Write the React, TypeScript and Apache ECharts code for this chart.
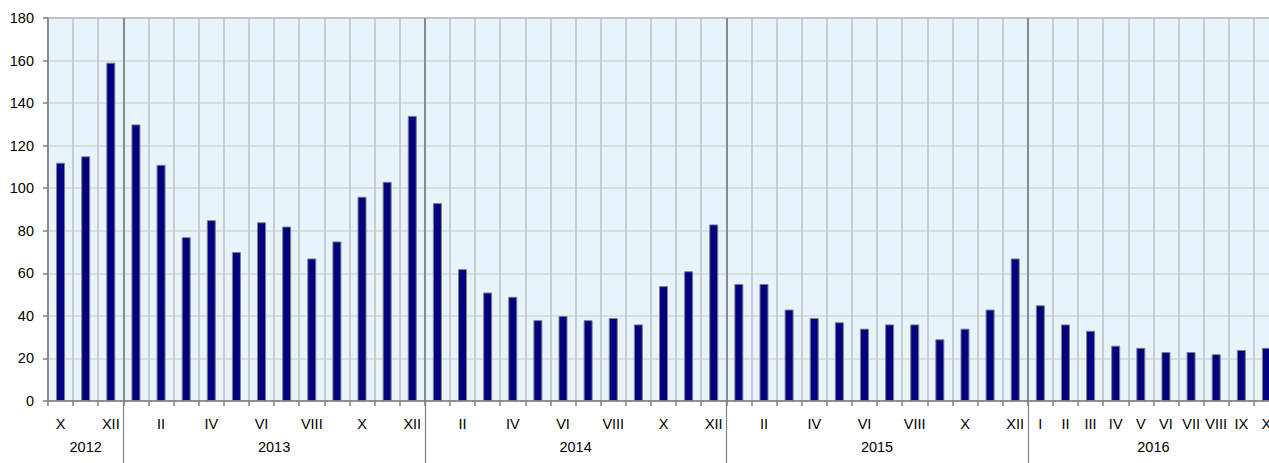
import React, { useEffect, useRef } from "react";
import * as echarts from "echarts";

const months: string[] = [
  "X", "XI", "XII",
  "I", "II", "III", "IV", "V", "VI", "VII", "VIII", "IX", "X", "XI", "XII",
  "I", "II", "III", "IV", "V", "VI", "VII", "VIII", "IX", "X", "XI", "XII",
  "I", "II", "III", "IV", "V", "VI", "VII", "VIII", "IX", "X", "XI", "XII",
  "I", "II", "III", "IV", "V", "VI", "VII", "VIII", "IX", "X",
];

const years: string[] = ["2012", "2013", "2014", "2015", "2016"];
const monthsPerYear: number[] = [3, 12, 12, 12, 10];

const values: number[] = [
  112, 115, 159,
  130, 111, 77, 85, 70, 84, 82, 67, 75, 96, 103, 134,
  93, 62, 51, 49, 38, 40, 38, 39, 36, 54, 61, 83,
  55, 55, 43, 39, 37, 34, 36, 36, 29, 34, 43, 67,
  45, 36, 33, 26, 25, 23, 23, 22, 24, 25,
];

const yTicks = { min: 0, max: 180, interval: 20 };

const FONT = "'Liberation Sans', Arial, sans-serif";

export default function App() {
  const ref = useRef<HTMLDivElement>(null);

  useEffect(() => {
    if (!ref.current) return;
    const chart = echarts.init(ref.current, undefined, { renderer: "svg" });

    const yearStarts: number[] = [];
    let acc = 0;
    monthsPerYear.forEach((n) => {
      yearStarts.push(acc);
      acc += n;
    });
    const boundaryIdx = new Set(yearStarts.slice(1));
    const allShownFrom = yearStarts[yearStarts.length - 1];

    chart.setOption({
      animation: false,
      grid: {
        left: 48,
        top: 18,
        width: 1231,
        height: 383,
        outerBoundsMode: "none",
        containLabel: false,
        show: true,
        backgroundColor: "#e8f4fb",
        borderColor: "#8c8c8c",
        borderWidth: 2,
      },
      xAxis: [
        {
          type: "category",
          data: months,
          boundaryGap: true,
          axisLine: { show: true, lineStyle: { color: "#808080", width: 1.5 } },
          axisTick: { show: true, interval: 0, length: 5, lineStyle: { color: "#808080", width: 1.5 } },
          axisLabel: {
            interval: 0,
            margin: 15,
            fontSize: 14.5,
            fontFamily: FONT,
            color: "#000",
            formatter: (v: string, i: number) =>
              i >= allShownFrom || i % 2 === 0 ? v : "",
          },
          splitLine: { show: true, interval: 0, lineStyle: { color: "#c0c0c0", width: 1.5 } },
        },
        {
          type: "category",
          data: months,
          boundaryGap: true,
          position: "bottom",
          axisLine: { show: false },
          axisLabel: { show: false },
          axisTick: {
            show: true,
            interval: (i: number) => boundaryIdx.has(i),
            length: 62,
            lineStyle: { color: "#808080", width: 1.2 },
          },
          splitLine: {
            show: true,
            interval: (i: number) => boundaryIdx.has(i),
            lineStyle: { color: "#7a7a7a", width: 1.6 },
          },
        },
      ],
      yAxis: {
        type: "value",
        min: yTicks.min,
        max: yTicks.max,
        interval: yTicks.interval,
        axisLine: { show: true, lineStyle: { color: "#808080", width: 1.5 } },
        axisTick: { show: true, length: 5, lineStyle: { color: "#808080", width: 1.5 } },
        axisLabel: { margin: 14, fontSize: 14.5, fontFamily: FONT, color: "#000" },
        splitLine: { show: true, lineStyle: { color: "#d6d6d6", width: 1.5 } },
      },
      series: [
        {
          type: "bar",
          data: values,
          barWidth: 9,
          itemStyle: { color: "#000080", borderColor: "#808080", borderWidth: 1 },
        },
      ],
    });

    const graphics: any[] = [];
    years.forEach((y, k) => {
      const s = yearStarts[k];
      const e = s + monthsPerYear[k] - 1;
      const x1 = chart.convertToPixel({ xAxisIndex: 0 }, s) as number;
      const x2 = chart.convertToPixel({ xAxisIndex: 0 }, e) as number;
      const yPix = chart.convertToPixel({ yAxisIndex: 0 }, 0) as number;
      graphics.push({
        type: "text",
        x: (x1 + x2) / 2,
        y: yPix + 46,
        style: {
          text: y,
          fontSize: 14.5,
          fontFamily: FONT,
          fill: "#000",
          textAlign: "center",
          textVerticalAlign: "middle",
        },
      });
    });
    chart.setOption({ graphic: graphics });

    return () => chart.dispose();
  }, []);

  return (
    <div
      style={{
        position: "absolute",
        left: 0,
        top: 0,
        width: 1269,
        height: 463,
        overflow: "hidden",
      }}
    >
      <div ref={ref} style={{ width: 1320, height: 463 }} />
    </div>
  );
}
